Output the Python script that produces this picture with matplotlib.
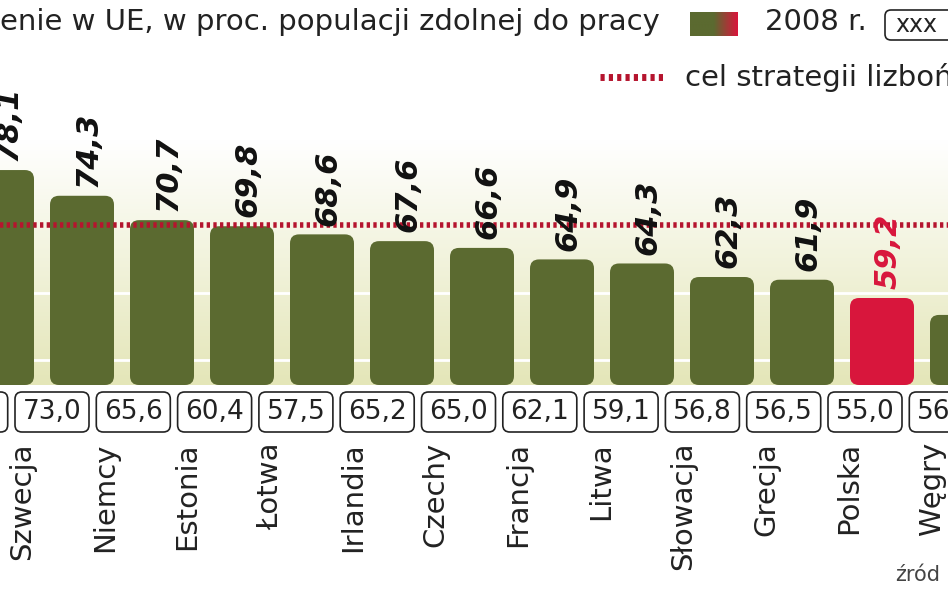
import numpy as np
import matplotlib.pyplot as plt
from matplotlib.patches import FancyBboxPatch

countries = ["Dania", "Szwecja", "Niemcy", "Estonia", "Łotwa", "Irlandia", "Czechy",
             "Francja", "Litwa", "Słowacja", "Grecja", "Polska", "Węgry"]
val_2008 = [78.1, 74.3, 70.7, 69.8, 68.6, 67.6, 66.6, 64.9, 64.3, 62.3, 61.9, 59.2, 56.7]
val_2000 = ["76,3", "73,0", "65,6", "60,4", "57,5", "65,2", "65,0", "62,1", "59,1", "56,8", "56,5", "55,0", "56,3"]
lisbon_target = 70.0
highlight = "Polska"

plt.rcParams["font.family"] = ["Liberation Sans Narrow", "DejaVu Sans"]

W, H = 948, 593
PX_PER_UNIT = 6.77

def py(p):  # pixel row -> value units
    return 59.2 + (298 - p) / PX_PER_UNIT

fig = plt.figure(figsize=(W / 100, H / 100), dpi=100)
ax = fig.add_axes([0, 0, 1, 1])
ax.set_xlim(0, W)
ax.set_ylim(py(H), py(0))
ax.axis("off")
base = py(385)

# background gradient behind bars
grad = np.linspace(0, 1, 256).reshape(-1, 1)
cmap = plt.matplotlib.colors.LinearSegmentedColormap.from_list("bg", ["#e4e6b8", "#ffffff"])
ax.imshow(grad, cmap=cmap, aspect="auto", extent=[0, W, base, py(140)], origin="lower", zorder=0)

for g in [50, 60]:
    ax.axhline(g, color="white", lw=2, zorder=1)

green, red = "#5b6a30", "#d8163c"
for i, (c, v) in enumerate(zip(countries, val_2008)):
    k = i - 1
    xb = 82 + 80 * k
    col = red if c == highlight else green
    ax.add_patch(FancyBboxPatch((xb - 32, base), 64, v - base,
                                boxstyle="round,pad=0,rounding_size=9",
                                mutation_aspect=1 / PX_PER_UNIT,
                                fc=col, ec="none", zorder=2))
    if c != "Węgry":
        ax.text(xb + 6, v + 1.3, f"{v:.1f}".replace(".", ","), rotation=90,
                ha="center", va="bottom", fontsize=22, fontweight="bold", fontstyle="italic",
                family="DejaVu Sans Condensed" if False else "Liberation Sans Narrow",
                color=red if c == highlight else "#111111", zorder=4)
    # 2000 value boxes
    xx = 52 + 81.3 * k
    yb = py(432)
    ax.add_patch(FancyBboxPatch((xx - 37, yb), 74, 40 / PX_PER_UNIT,
                                boxstyle="round,pad=0,rounding_size=7",
                                mutation_aspect=1 / PX_PER_UNIT,
                                fc="white", ec="#222222", lw=1.2, zorder=3))
    ax.text(xx, yb + 20 / PX_PER_UNIT, val_2000[i], ha="center", va="center",
            fontsize=19, color="#222222", zorder=4)
    # country names
    xl = 22 + 82.7 * k
    ax.text(xl, py(442), c, rotation=90, ha="center", va="top",
            fontsize=21, color="#222222", zorder=4)

ax.axhline(lisbon_target, color="#b5142e", lw=4, ls=(0, (0.6, 0.6)), zorder=3)

ax.text(0, py(22), "enie w UE, w proc. populacji zdolnej do pracy", ha="left", va="center",
        fontsize=21, color="#222222")
sw = np.linspace(0, 1, 64).reshape(1, -1)
ax.imshow(sw, cmap=plt.matplotlib.colors.LinearSegmentedColormap.from_list("sw", [green, green, red]),
          aspect="auto", extent=[690, 738, py(36), py(12)], zorder=3)
ax.text(765, py(22), "2008 r.", ha="left", va="center", fontsize=21, color="#222222")
ax.add_patch(FancyBboxPatch((885, py(40)), 80, 30 / PX_PER_UNIT,
                            boxstyle="round,pad=0,rounding_size=6",
                            mutation_aspect=1 / PX_PER_UNIT, fc="white", ec="#222222", lw=1.2))
ax.text(895, py(25), "xxx", ha="left", va="center", fontsize=17, color="#222222")
ax.plot([600, 665], [py(77), py(77)], color="#b5142e", lw=5, ls=(0, (0.6, 0.6)))
ax.text(685, py(77), "cel strategii lizboń", ha="left", va="center", fontsize=21, color="#222222")
ax.text(895, py(575), "źród", ha="left", va="center", fontsize=15, color="#444444")

fig.savefig("out.png", dpi=100)
